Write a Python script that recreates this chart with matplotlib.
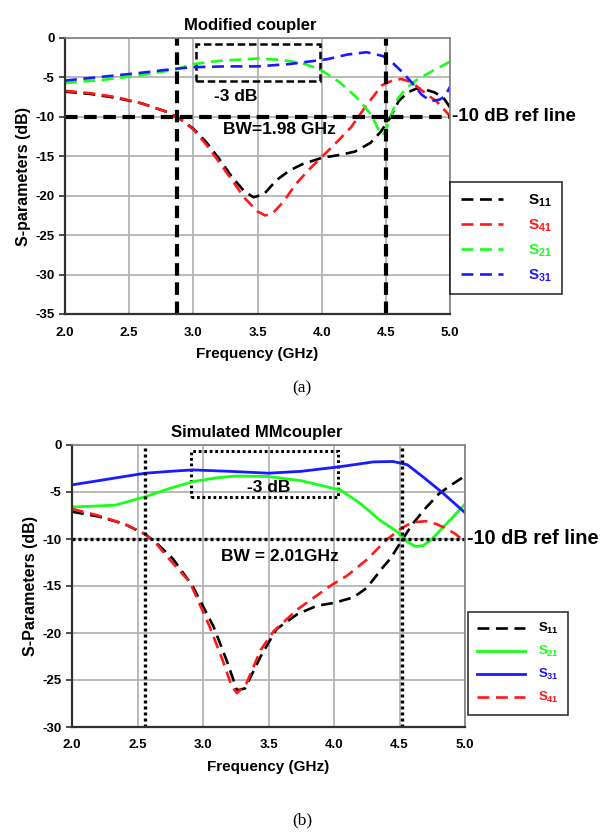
import matplotlib
matplotlib.use("Agg")
import matplotlib.pyplot as plt
from matplotlib.patches import Rectangle

plt.rcParams['font.family'] = ['Liberation Sans', 'DejaVu Sans']
plt.rcParams['font.weight'] = 'bold'
plt.rcParams['axes.unicode_minus'] = False
plt.rcParams['mathtext.fontset'] = 'custom'
plt.rcParams['mathtext.rm'] = 'Liberation Sans:bold'
plt.rcParams['mathtext.it'] = 'Liberation Sans:bold'
plt.rcParams['mathtext.bf'] = 'Liberation Sans:bold'

# ---------------- (a) Modified coupler ----------------
a_s11_f = [2.0, 2.2, 2.4, 2.6, 2.8, 2.9, 3.0, 3.1, 3.2, 3.3, 3.4, 3.47, 3.55, 3.65, 3.75, 3.85, 4.0, 4.15, 4.26, 4.38, 4.46, 4.53, 4.6, 4.67, 4.74, 4.8, 4.88, 4.95, 5.0]
a_s11_db = [-6.8, -7.1, -7.6, -8.3, -9.4, -10.3, -11.5, -13.2, -15.3, -17.6, -19.5, -20.2, -19.8, -18.0, -16.8, -16.0, -15.2, -14.8, -14.4, -13.3, -11.9, -10.2, -8.0, -6.9, -6.4, -6.5, -6.9, -7.6, -8.8]

a_s41_f = [2.0, 2.2, 2.4, 2.6, 2.8, 2.9, 3.0, 3.1, 3.2, 3.3, 3.4, 3.5, 3.56, 3.62, 3.7, 3.8, 3.9, 4.0, 4.1, 4.23, 4.35, 4.47, 4.55, 4.62, 4.7, 4.8, 4.9, 5.0]
a_s41_db = [-6.7, -7.0, -7.5, -8.3, -9.4, -10.3, -11.6, -13.5, -15.7, -18.0, -20.3, -22.0, -22.5, -22.2, -20.8, -18.5, -16.7, -15.1, -13.5, -11.3, -8.5, -6.0, -5.4, -5.2, -5.6, -6.9, -8.1, -9.9]

a_s21_f = [2.0, 2.3, 2.6, 2.86, 3.0, 3.2, 3.5, 3.7, 3.85, 3.99, 4.14, 4.27, 4.38, 4.44, 4.48, 4.53, 4.58, 4.65, 4.74, 4.85, 5.0]
a_s21_db = [-5.7, -5.3, -4.7, -4.0, -3.3, -2.9, -2.6, -2.8, -3.2, -4.0, -5.6, -7.5, -9.6, -11.5, -12.3, -10.5, -8.0, -6.5, -5.3, -4.3, -3.0]

a_s31_f = [2.0, 2.3, 2.6, 2.86, 3.0, 3.25, 3.5, 3.75, 4.04, 4.2, 4.35, 4.48, 4.55, 4.62, 4.7, 4.78, 4.85, 4.92, 4.96, 5.0]
a_s31_db = [-5.4, -4.9, -4.4, -3.9, -3.7, -3.6, -3.6, -3.3, -2.7, -2.1, -1.8, -2.3, -3.1, -4.2, -5.6, -7.2, -8.0, -7.8, -7.4, -6.2]

a_bw_edges = [2.87, 4.5]
a_box = [3.02, 3.99, -0.7, -5.4]

# ---------------- (b) Simulated MMcoupler ----------------
b_s11_f = [2.0, 2.2, 2.4, 2.56, 2.65, 2.77, 2.92, 3.08, 3.18, 3.26, 3.32, 3.44, 3.56, 3.72, 3.87, 4.0, 4.15, 4.25, 4.38, 4.43, 4.52, 4.6, 4.7, 4.8, 4.9, 5.0]
b_s11_db = [-7.1, -7.6, -8.4, -9.5, -10.5, -12.1, -15.0, -19.3, -22.9, -26.1, -25.9, -22.5, -19.6, -18.0, -17.1, -16.8, -16.2, -15.2, -12.9, -12.1, -10.1, -8.4, -6.7, -5.2, -4.2, -3.3]

b_s41_f = [2.0, 2.2, 2.4, 2.56, 2.65, 2.74, 2.9, 3.05, 3.15, 3.22, 3.26, 3.33, 3.44, 3.54, 3.72, 3.97, 4.1, 4.25, 4.4, 4.5, 4.56, 4.62, 4.7, 4.78, 4.86, 4.93, 5.0]
b_s41_db = [-6.8, -7.5, -8.4, -9.5, -10.6, -12.1, -14.6, -19.3, -22.9, -25.7, -26.4, -25.4, -21.8, -19.8, -17.5, -15.0, -13.9, -12.2, -10.1, -9.0, -8.5, -8.2, -8.1, -8.4, -8.9, -9.5, -10.3]

b_s21_f = [2.0, 2.33, 2.56, 2.75, 2.92, 3.1, 3.25, 3.5, 3.75, 4.05, 4.2, 4.35, 4.48, 4.56, 4.62, 4.68, 4.74, 4.85, 5.0]
b_s21_db = [-6.6, -6.4, -5.5, -4.6, -3.9, -3.5, -3.3, -3.35, -3.8, -4.8, -6.2, -8.0, -9.2, -10.3, -10.8, -10.7, -10.1, -8.5, -6.3]

b_s31_f = [2.0, 2.2, 2.4, 2.56, 2.75, 2.92, 3.2, 3.5, 3.75, 4.05, 4.3, 4.45, 4.56, 4.68, 4.83, 5.0]
b_s31_db = [-4.24, -3.8, -3.35, -3.0, -2.8, -2.65, -2.8, -3.0, -2.8, -2.3, -1.8, -1.75, -2.1, -3.4, -5.1, -7.2]

b_bw_edges = [2.56, 4.52]
b_box = [2.91, 4.03, -0.64, -5.5]

fig = plt.figure(figsize=(6.04, 8.32), dpi=100)

def px(x0, y0, x1, y1):
    W, H = 604.0, 832.0
    return [x0 / W, 1 - y1 / H, (x1 - x0) / W, (y1 - y0) / H]

def style_axes(ax, ylim, yticks):
    ax.set_xlim(2.0, 5.0)
    ax.set_ylim(*ylim)
    ax.set_xticks([2.0, 2.5, 3.0, 3.5, 4.0, 4.5, 5.0])
    ax.set_xticklabels(['2.0', '2.5', '3.0', '3.5', '4.0', '4.5', '5.0'])
    ax.set_yticks(yticks)
    ax.set_yticklabels([str(v) for v in yticks])
    ax.grid(True, color='#b4b4b4', lw=1.3)
    ax.set_axisbelow(True)
    for s in ['top', 'right']:
        ax.spines[s].set_color('#808080')
        ax.spines[s].set_linewidth(1.2)
    for s in ['left', 'bottom']:
        ax.spines[s].set_color('#303030')
        ax.spines[s].set_linewidth(1.6)
    ax.tick_params(axis='both', labelsize=9.5, width=1.2, length=4, color='#303030')
    ax.tick_params(axis='x', length=0, pad=9)
    for lab in ax.get_xticklabels() + ax.get_yticklabels():
        lab.set_fontweight('bold')

# ---- panel (a)
ax1 = fig.add_axes(px(65, 38, 450, 314))
style_axes(ax1, (-35, 0), list(range(-35, 1, 5)))
dash_a = (0, (4.5, 2.5))
l11, = ax1.plot(a_s11_f, a_s11_db, color='black', lw=1.9, ls=dash_a, label='$S_{11}$')
l41, = ax1.plot(a_s41_f, a_s41_db, color='#ff1a1a', lw=1.9, ls=dash_a, label='$S_{41}$')
l21, = ax1.plot(a_s21_f, a_s21_db, color='#1aff1a', lw=1.9, ls=dash_a, label='$S_{21}$')
l31, = ax1.plot(a_s31_f, a_s31_db, color='#1a1aff', lw=1.9, ls=dash_a, label='$S_{31}$')
for xv in a_bw_edges:
    ax1.axvline(xv, color='black', lw=3, ls=(0, (3, 1.6)))
ax1.plot([2.0, 5.0], [-10, -10], color='black', lw=3, ls=(0, (3, 1.6)), clip_on=False)
ax1.add_patch(Rectangle((a_box[0], a_box[3]), a_box[1] - a_box[0], a_box[2] - a_box[3],
                        fill=False, ec='black', lw=1.8, ls=(0, (3, 1.5))))
ax1.text(3.33, -7.4, '-3 dB', fontsize=12.5, fontweight='bold', ha='center', va='center')
ax1.text(3.67, -11.6, 'BW=1.98 GHz', fontsize=12.5, fontweight='bold', ha='center', va='center')
ax1.text(1.005, -10, '-10 dB ref line', transform=ax1.get_yaxis_transform(), fontsize=13.5,
         fontweight='bold', ha='left', va='center')
ax1.set_title('Modified coupler', fontsize=12, fontweight='bold', pad=6, x=0.48)
ax1.set_xlabel('Frequency (GHz)', fontsize=11, fontweight='bold', labelpad=6)
ax1.set_ylabel('S-parameters (dB)', fontsize=11.5, fontweight='bold', labelpad=3)
leg1 = ax1.legend(handles=[l11, l41, l21, l31], loc='upper left', bbox_to_anchor=(1.0, 0.478),
                  frameon=True, fancybox=False, edgecolor='black', fontsize=11,
                  handlelength=2.8, handletextpad=1.6, borderpad=0.7, labelspacing=0.55,
                  borderaxespad=0)
leg1.get_frame().set_linewidth(1.2)
for t, c in zip(leg1.get_texts(), ['black', '#ff1a1a', '#1aff1a', '#1a1aff']):
    t.set_color(c)
fig.text(302 / 604, 1 - 388 / 832, '(a)', fontsize=12.5, family='Liberation Serif',
         fontweight='normal', ha='center', va='center')

# ---- panel (b)
ax2 = fig.add_axes(px(72, 445, 465, 727))
style_axes(ax2, (-30, 0), list(range(-30, 1, 5)))
dash_b = (0, (4.5, 2.5))
m11, = ax2.plot(b_s11_f, b_s11_db, color='black', lw=1.9, ls=dash_b, label='$S_{11}$')
m21, = ax2.plot(b_s21_f, b_s21_db, color='#1aff1a', lw=2.0, label='$S_{21}$')
m31, = ax2.plot(b_s31_f, b_s31_db, color='#1a1aff', lw=2.0, label='$S_{31}$')
m41, = ax2.plot(b_s41_f, b_s41_db, color='#ff1a1a', lw=1.9, ls=dash_b, label='$S_{41}$')
for xv in b_bw_edges:
    ax2.axvline(xv, color='black', lw=2.4, ls=(0, (0.9, 0.9)))
ax2.plot([2.0, 5.0], [-10, -10], color='black', lw=2.4, ls=(0, (0.9, 0.9)), clip_on=False)
ax2.add_patch(Rectangle((b_box[0], b_box[3]), b_box[1] - b_box[0], b_box[2] - b_box[3],
                        fill=False, ec='black', lw=2.2, ls=(0, (0.9, 0.9))))
ax2.text(3.5, -4.5, '-3 dB', fontsize=12.5, fontweight='bold', ha='center', va='center')
ax2.text(3.59, -11.9, 'BW = 2.01GHz', fontsize=12.5, fontweight='bold', ha='center', va='center')
ax2.text(1.004, -10, '-10 dB ref line', transform=ax2.get_yaxis_transform(), fontsize=14.3,
         fontweight='bold', ha='left', va='center')
ax2.set_title('Simulated MMcoupler', fontsize=12, fontweight='bold', pad=6, x=0.47)
ax2.set_xlabel('Frequency (GHz)', fontsize=11, fontweight='bold', labelpad=6)
ax2.set_ylabel('S-Parameters (dB)', fontsize=11.5, fontweight='bold', labelpad=3)
leg2 = ax2.legend(handles=[m11, m21, m31, m41], loc='upper left', bbox_to_anchor=(1.008, 0.408),
                  frameon=True, fancybox=False, edgecolor='black', fontsize=9.5,
                  handlelength=3.6, handletextpad=1.0, borderpad=0.7, labelspacing=0.6,
                  borderaxespad=0)
leg2.get_frame().set_linewidth(1.2)
for t, c in zip(leg2.get_texts(), ['black', '#1aff1a', '#1a1aff', '#ff1a1a']):
    t.set_color(c)
fig.text(302 / 604, 1 - 820 / 832, '(b)', fontsize=12.5, family='Liberation Serif',
         fontweight='normal', ha='center', va='center')

fig.savefig('out.png', dpi=100)
